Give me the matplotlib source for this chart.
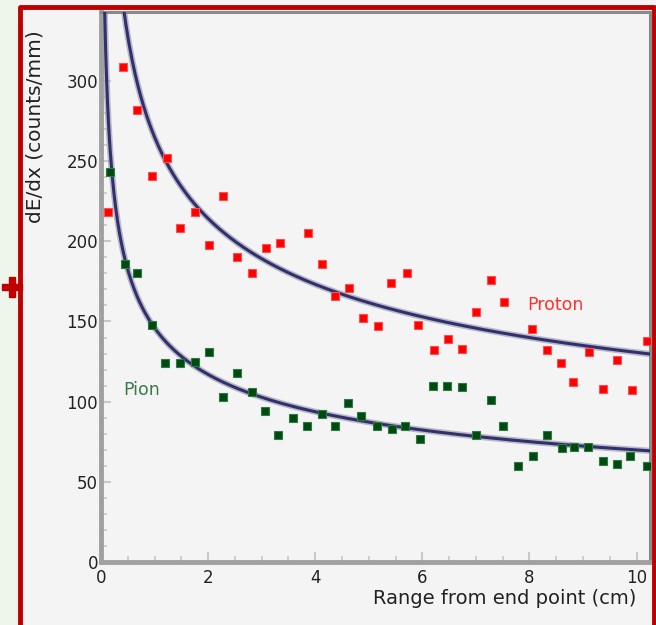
# dE/dx против пробега до конечной точки: протоны и пионы с подгонкой
import numpy as np
import matplotlib.pyplot as plt
from matplotlib.lines import Line2D
from matplotlib.patches import Rectangle

# Протоны (красные точки)
proton_x = [0.13, 0.41, 0.67, 0.95, 1.23, 1.47, 1.75, 2.01, 2.28, 2.54, 2.82, 3.08,
            3.34, 3.86, 4.12, 4.37, 4.63, 4.89, 5.17, 5.41, 5.71, 5.91, 6.21, 6.47,
            6.74, 7.01, 7.28, 7.52, 8.04, 8.32, 8.58, 8.82, 9.12, 9.37, 9.63, 9.91, 10.19]
proton_y = [218, 309, 282, 241, 252, 208, 218, 198, 228, 190, 180, 196,
            199, 205, 186, 166, 171, 152, 147, 174, 180, 148, 132, 139,
            133, 156, 176, 162, 145, 132, 124, 112, 131, 108, 126, 107, 138]

# Пионы (зелёные точки)
pion_x = [0.17, 0.45, 0.67, 0.95, 1.19, 1.47, 1.75, 2.01, 2.28, 2.54, 2.82, 3.06,
          3.30, 3.58, 3.84, 4.12, 4.37, 4.61, 4.85, 5.15, 5.43, 5.67, 5.95, 6.19,
          6.46, 6.74, 7.01, 7.28, 7.50, 7.78, 8.06, 8.32, 8.60, 8.84, 9.09, 9.37,
          9.63, 9.87, 10.19]
pion_y = [243, 186, 180, 148, 124, 124, 125, 131, 103, 118, 106, 94,
          79, 90, 85, 92, 85, 99, 91, 85, 83, 85, 77, 110,
          110, 109, 79, 101, 85, 60, 66, 79, 71, 72, 72, 63,
          61, 66, 60]

# Параметры подгонки a * x^(-p)
proton_a, proton_p = 265, 0.307
pion_a, pion_p = 146, 0.32

x_ticks = [0, 2, 4, 6, 8, 10]
y_ticks = [0, 50, 100, 150, 200, 250, 300]

fig = plt.figure(figsize=(6.56, 6.25), dpi=100, facecolor='#f4f4f4')
W, H = 656, 625

# фон слева от красной рамки и сама рамка
fig.patches.append(Rectangle((0, 0), 18 / W, 1, transform=fig.transFigure,
                             facecolor='#eef5ea', edgecolor='none', zorder=0))
fig.add_artist(Line2D([20 / W, 20 / W, 654 / W, 654 / W], [0, 1 - 7 / H, 1 - 7 / H, 0],
                      transform=fig.transFigure, color='#c00000', lw=3.5))
fig.add_artist(Line2D([12 / W], [1 - 287 / H], transform=fig.transFigure, marker='P',
                      ms=15, color='#c00000', mec='#c00000'))

ax = fig.add_axes([101 / W, 1 - 562 / H, (650 - 101) / W, (562 - 12) / H])
ax.set_facecolor('#f4f4f4')

xs = np.linspace(0.02, 10.3, 600)
for a, p in [(proton_a, proton_p), (pion_a, pion_p)]:
    ax.plot(xs, a * xs ** (-p), color='#a0a0b4', lw=4.5, alpha=0.7, zorder=2)
    ax.plot(xs, a * xs ** (-p), color='#30306e', lw=2.2, zorder=3)

ax.plot(proton_x, proton_y, 's', color='#ff0000', ms=6, mec='#ff5050', mew=0.8, zorder=4)
ax.plot(pion_x, pion_y, 's', color='#004a10', ms=6, mec='#2e7a44', mew=0.8, zorder=4)

ax.text(7.95, 160, 'Proton', color='#ff3030', fontsize=12.5, va='center')
ax.text(0.41, 107, 'Pion', color='#3a7a4a', fontsize=12.5, va='center')

ax.set_xlim(0, 10.25)
ax.set_ylim(0, 343)
ax.set_xticks(x_ticks)
ax.set_yticks(y_ticks)
ax.set_xticks(np.arange(0, 10.3, 0.5), minor=True)
ax.set_yticks(np.arange(0, 343, 10), minor=True)
ax.tick_params(direction='in', which='both', color='#c8c8c8', labelsize=12,
               labelcolor='#222222')
ax.tick_params(which='major', length=7, width=1.5)
ax.tick_params(which='minor', length=4, width=1.2)
ax.tick_params(axis='y', pad=2)
ax.tick_params(axis='x', pad=5)

for side in ['left', 'bottom']:
    ax.spines[side].set_color('#a0a0a0')
    ax.spines[side].set_linewidth(3.5)
for side in ['top', 'right']:
    ax.spines[side].set_color('#8a8a8a')
    ax.spines[side].set_linewidth(2.2)

ax.set_xlabel('Range from end point (cm)', fontsize=14, color='#222222', loc='right')
ax.xaxis.set_label_coords(0.975, -0.05)
ax.set_ylabel('dE/dx (counts/mm)', fontsize=14.5, color='#222222', loc='top')
ax.yaxis.set_label_coords(-0.103, 0.967)

fig.savefig('out.png', dpi=100, facecolor=fig.get_facecolor())
